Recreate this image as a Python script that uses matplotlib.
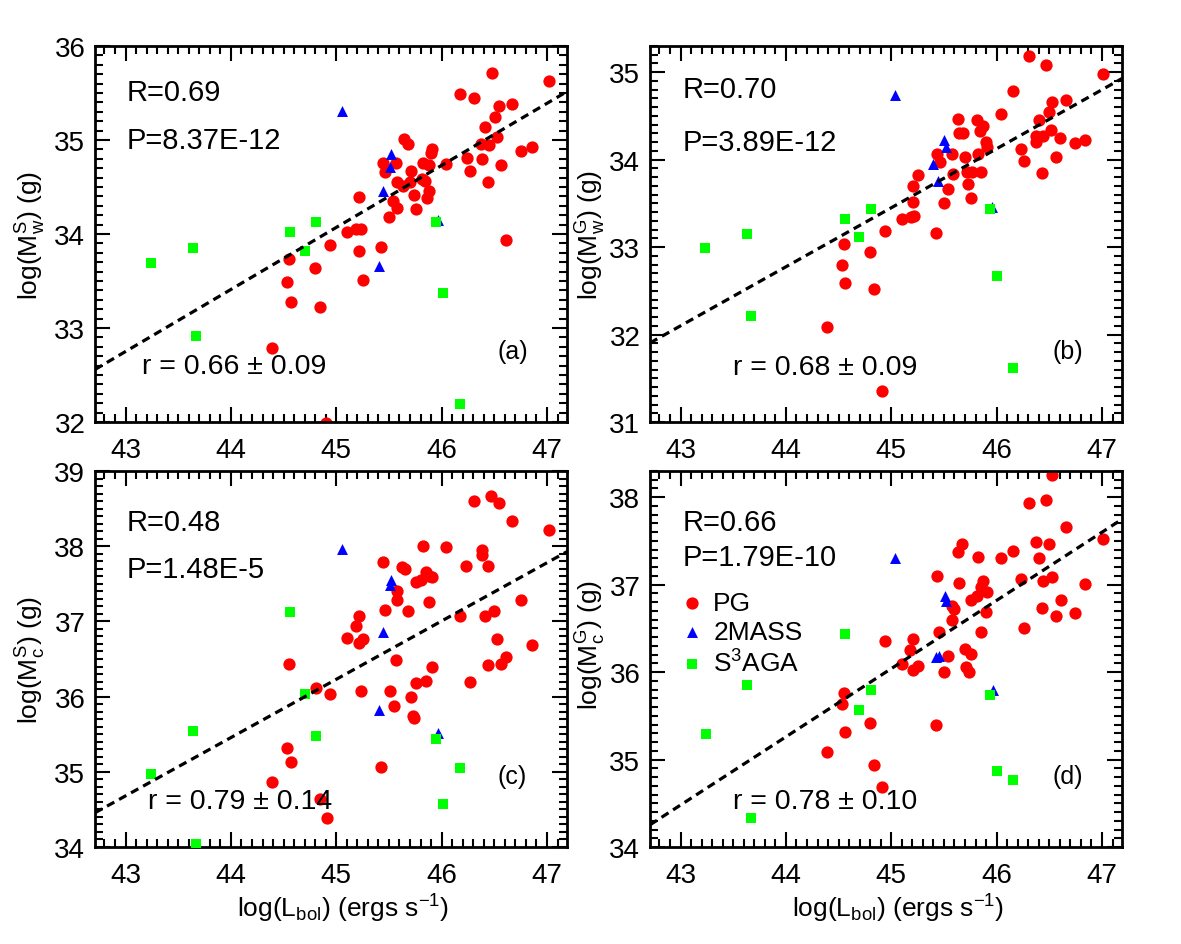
import numpy as np
import matplotlib.pyplot as plt
from matplotlib.ticker import MultipleLocator

plt.rcParams['font.family'] = ['Liberation Sans', 'DejaVu Sans']
plt.rcParams['mathtext.fontset'] = 'custom'
plt.rcParams['mathtext.rm'] = 'Liberation Sans'
plt.rcParams['mathtext.it'] = 'Liberation Sans:italic'
plt.rcParams['mathtext.bf'] = 'Liberation Sans:bold'

# ---- panel (a): log(Mw^S) vs log(Lbol)
pg_a_x = [46.48, 47.02, 46.17, 46.31, 46.67, 46.54, 46.51, 46.41, 46.53, 46.37, 46.45, 45.64, 45.68,
          46.86, 46.75, 45.91, 45.90, 46.24, 46.38, 45.44, 45.57, 45.82, 45.88, 46.04, 46.56, 45.46,
          45.71, 46.27, 45.81, 45.84, 45.58, 45.63, 45.70, 46.44, 45.88, 45.74, 45.22, 45.54, 45.86,
          45.58, 45.76, 45.50, 45.10, 45.19, 45.23, 46.61, 44.94, 45.42, 44.55, 45.22, 44.80, 44.53,
          45.25, 44.57, 44.85, 44.39, 44.90]
pg_a_y = [35.71, 35.63, 35.49, 35.45, 35.38, 35.36, 35.24, 35.14, 35.03, 34.96, 34.95, 35.01, 34.96,
          34.93, 34.88, 34.90, 34.86, 34.81, 34.80, 34.76, 34.76, 34.76, 34.73, 34.74, 34.73, 34.66,
          34.67, 34.67, 34.58, 34.56, 34.55, 34.51, 34.55, 34.55, 34.46, 34.41, 34.39, 34.35, 34.38,
          34.28, 34.27, 34.18, 34.02, 34.05, 34.05, 33.94, 33.88, 33.86, 33.73, 33.82, 33.64, 33.49,
          33.51, 33.28, 33.22, 32.79, 31.99]
mass_a_x = [45.05, 45.52, 45.51, 45.44, 45.41, 45.97]
mass_a_y = [35.31, 34.85, 34.71, 34.46, 33.66, 34.15]
s3_a_x = [43.24, 43.64, 43.67, 44.56, 44.70, 44.81, 45.95, 46.01, 46.17]
s3_a_y = [33.69, 33.85, 32.91, 34.02, 33.82, 34.13, 34.13, 33.37, 32.19]

# ---- panel (b): log(Mw^G)
pg_b_x = [46.31, 46.47, 47.01, 46.16, 46.66, 46.53, 46.04, 46.50, 45.63, 45.81, 46.40, 45.87, 45.64,
          45.68, 45.84, 46.52, 46.37, 46.44, 46.37, 46.60, 46.74, 46.84, 45.90, 45.91, 46.23, 45.43,
          45.58, 45.70, 45.82, 46.56, 45.46, 46.26, 45.25, 45.59, 45.72, 45.77, 45.85, 46.43, 45.21,
          45.73, 45.54, 45.21, 45.76, 45.50, 45.10, 45.19, 45.22, 44.94, 45.42, 44.55, 44.80, 44.53,
          44.56, 44.84, 44.39, 44.91]
pg_b_y = [35.18, 35.08, 34.98, 34.79, 34.68, 34.66, 34.52, 34.55, 34.46, 34.45, 34.45, 34.38, 34.31,
          34.30, 34.33, 34.34, 34.27, 34.27, 34.20, 34.25, 34.19, 34.23, 34.20, 34.14, 34.12, 34.07,
          34.07, 34.03, 34.07, 34.03, 33.97, 33.98, 33.83, 33.84, 33.86, 33.86, 33.86, 33.85, 33.70,
          33.72, 33.66, 33.52, 33.56, 33.50, 33.32, 33.35, 33.36, 33.19, 33.16, 33.03, 32.94, 32.79,
          32.59, 32.52, 32.09, 31.36]
mass_b_x = [45.04, 45.50, 45.52, 45.40, 45.44, 45.96]
mass_b_y = [34.74, 34.23, 34.15, 33.95, 33.76, 33.46]
s3_b_x = [43.23, 43.63, 43.67, 44.56, 44.69, 44.81, 45.94, 46.00, 46.16]
s3_b_y = [32.99, 33.15, 32.21, 33.32, 33.12, 33.44, 33.44, 32.67, 31.62]

# ---- panel (c): log(Mc^S)
pg_c_x = [46.47, 46.31, 46.54, 46.67, 47.02, 45.82, 46.04, 46.38, 46.38, 45.44, 46.23, 46.44, 45.62,
          45.65, 45.85, 45.88, 45.91, 45.76, 45.80, 45.58, 45.58, 46.75, 45.88, 45.46, 45.68, 46.50,
          45.22, 46.17, 46.41, 45.19, 45.10, 45.25, 45.22, 46.53, 46.86, 45.57, 44.55, 46.44, 46.56,
          46.61, 45.91, 45.85, 45.76, 46.27, 44.81, 45.23, 45.51, 44.94, 45.71, 45.55, 45.73, 45.74,
          44.53, 44.57, 45.42, 44.39, 44.85, 44.91]
pg_c_y = [38.67, 38.60, 38.58, 38.34, 38.22, 38.00, 37.99, 37.95, 37.88, 37.79, 37.74, 37.74, 37.72,
          37.70, 37.66, 37.61, 37.59, 37.52, 37.55, 37.41, 37.29, 37.29, 37.26, 37.15, 37.14, 37.14,
          37.07, 37.07, 37.07, 36.94, 36.78, 36.77, 36.71, 36.77, 36.69, 36.49, 36.44, 36.42, 36.43,
          36.52, 36.40, 36.21, 36.18, 36.19, 36.11, 36.07, 36.08, 36.04, 36.00, 35.87, 35.74, 35.72,
          35.32, 35.13, 35.07, 34.86, 34.64, 34.38]
mass_c_x = [45.05, 45.52, 45.51, 45.44, 45.41, 45.97]
mass_c_y = [37.96, 37.55, 37.48, 36.86, 35.82, 35.51]
s3_c_x = [43.24, 43.64, 43.67, 44.56, 44.70, 44.81, 45.95, 46.17, 46.01]
s3_c_y = [34.97, 35.54, 34.04, 37.13, 36.04, 35.48, 35.43, 35.05, 34.57]

# ---- panel (d): log(Mc^G)
pg_d_x = [46.53, 46.31, 46.47, 46.66, 47.01, 45.67, 46.37, 46.50, 45.63, 46.16, 45.82, 46.04, 46.40,
          45.43, 46.23, 46.44, 46.53, 45.64, 46.84, 45.87, 45.85, 45.91, 45.81, 45.76, 46.61, 45.58,
          45.60, 46.43, 45.90, 46.74, 46.56, 45.58, 46.26, 45.45, 45.85, 44.94, 45.21, 45.18, 45.70,
          45.76, 45.54, 45.10, 45.25, 45.21, 45.71, 45.74, 45.50, 44.55, 44.53, 44.80, 45.42, 44.56,
          44.39, 44.84, 44.91]
pg_d_y = [38.25, 37.93, 37.97, 37.66, 37.52, 37.46, 37.49, 37.46, 37.37, 37.38, 37.32, 37.30, 37.30,
          37.10, 37.07, 37.04, 37.09, 37.02, 37.01, 37.04, 36.97, 36.92, 36.87, 36.83, 36.83, 36.76,
          36.72, 36.73, 36.69, 36.68, 36.64, 36.60, 36.50, 36.46, 36.46, 36.36, 36.38, 36.25, 36.27,
          36.21, 36.19, 36.09, 36.07, 36.02, 36.06, 36.00, 36.00, 35.76, 35.63, 35.42, 35.40, 35.31,
          35.09, 34.94, 34.69]
mass_d_x = [45.04, 45.51, 45.52, 45.42, 45.45, 45.97]
mass_d_y = [37.30, 36.87, 36.81, 36.17, 36.19, 35.80]
s3_d_x = [43.24, 43.63, 43.67, 44.56, 44.69, 44.81, 45.94, 46.00, 46.16]
s3_d_y = [35.29, 35.85, 34.33, 36.44, 35.57, 35.79, 35.74, 34.87, 34.77]

# fitted lines: slope and value at log(Lbol)=45
fit_slope = [0.66, 0.675, 0.775, 0.78]
fit_at45 = [34.07, 33.45, 36.23, 36.04]

stat_R = ['R=0.69', 'R=0.70', 'R=0.48', 'R=0.66']
stat_P = ['P=8.37E-12', 'P=3.89E-12', 'P=1.48E-5', 'P=1.79E-10']
stat_r = ['r = 0.66 \u00b1 0.09', 'r = 0.68 \u00b1 0.09', 'r = 0.79 \u00b1 0.14', 'r = 0.78 \u00b1 0.10']
tags = ['(a)', '(b)', '(c)', '(d)']
ylabels = [r'log(M$_{\rm w}^{\rm S}$) (g)', r'log(M$_{\rm w}^{\rm G}$) (g)',
           r'log(M$_{\rm c}^{\rm S}$) (g)', r'log(M$_{\rm c}^{\rm G}$) (g)']
ylims = [(32, 36), (31, 35.3), (34, 39), (34, 38.3)]

fig = plt.figure(figsize=(11.81, 9.45), dpi=100)
W, H = 1181, 945
rects = [[95 / W, 1 - 423 / H, 472 / W, 376 / H],
         [650 / W, 1 - 423 / H, 472 / W, 376 / H],
         [95 / W, 1 - 848 / H, 472 / W, 376 / H],
         [650 / W, 1 - 848 / H, 472 / W, 376 / H]]

data = [(pg_a_x, pg_a_y, mass_a_x, mass_a_y, s3_a_x, s3_a_y),
        (pg_b_x, pg_b_y, mass_b_x, mass_b_y, s3_b_x, s3_b_y),
        (pg_c_x, pg_c_y, mass_c_x, mass_c_y, s3_c_x, s3_c_y),
        (pg_d_x, pg_d_y, mass_d_x, mass_d_y, s3_d_x, s3_d_y)]

# text positions (axes fraction)
R_pos = [(0.068, 0.878), (0.069, 0.886), (0.068, 0.864), (0.069, 0.864)]
P_pos = [(0.068, 0.750), (0.069, 0.745), (0.068, 0.739), (0.069, 0.772)]
r_pos = [(0.100, 0.149), (0.176, 0.146), (0.112, 0.122), (0.176, 0.122)]
ylab_x = [-0.100, -0.089, -0.100, -0.089]
ylab_y = [0.5, 0.5, 0.5, 0.54]

xlim = (42.71, 47.19)
for i in range(4):
    ax = fig.add_axes(rects[i])
    px, py, mx, my, sx, sy = data[i]
    h1 = ax.scatter(px, py, s=78, marker='o', color='#ff0000', linewidths=0, zorder=2, label='PG')
    h2 = ax.scatter(mx, my, s=62, marker='^', color='#0000ff', linewidths=0, zorder=3, label='2MASS')
    h3 = ax.scatter(sx, sy, s=62, marker='s', color='#00ff00', linewidths=0, zorder=4, label=r'S$^3$AGA')

    xx = np.array(xlim)
    ax.plot(xx, fit_at45[i] + fit_slope[i] * (xx - 45), color='black', lw=2.3,
            ls=(0, (2.6, 1.7)), zorder=5)

    ax.set_xlim(xlim)
    ax.set_ylim(ylims[i])
    ax.xaxis.set_major_locator(MultipleLocator(1))
    ax.xaxis.set_minor_locator(MultipleLocator(0.1))
    ax.yaxis.set_major_locator(MultipleLocator(1))
    ax.yaxis.set_minor_locator(MultipleLocator(0.1))
    ax.tick_params(which='both', direction='in', top=True, right=True, labelsize=20)
    ax.tick_params(which='major', length=10.8, width=1.5)
    ax.tick_params(which='minor', length=6, width=1.5)
    ax.tick_params(axis='x', pad=10.5)
    ax.tick_params(axis='y', pad=7)
    for sp in ax.spines.values():
        sp.set_linewidth(2)

    ax.set_ylabel(ylabels[i], fontsize=19)
    ax.yaxis.set_label_coords(ylab_x[i], ylab_y[i])
    if i >= 2:
        ax.set_xlabel(r'log(L$_{\rm bol}$) (ergs s$^{-1}$)', fontsize=19)
        ax.xaxis.set_label_coords(0.525, -0.12)

    ax.text(*R_pos[i], stat_R[i], transform=ax.transAxes, fontsize=21, va='center')
    ax.text(*P_pos[i], stat_P[i], transform=ax.transAxes, fontsize=21, va='center')
    ax.text(*r_pos[i], stat_r[i], transform=ax.transAxes, fontsize=20.5, va='center')
    ax.text(0.852, 0.19, tags[i], transform=ax.transAxes, fontsize=18, va='center')

    if i == 3:
        ax.legend(handles=[h1, h2, h3], loc='upper left', bbox_to_anchor=(0.067, 0.682),
                  frameon=False, fontsize=19, handlelength=0.8, handletextpad=0.4,
                  labelspacing=0.2, borderpad=0, borderaxespad=0, scatterpoints=1)

fig.savefig('out.png', dpi=100)
